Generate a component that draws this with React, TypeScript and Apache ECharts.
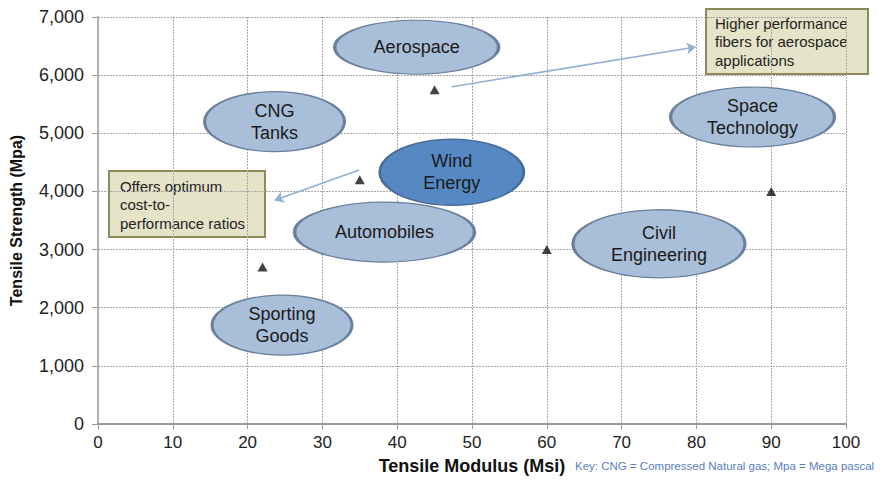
import React, { useEffect, useRef } from "react";
import * as echarts from "echarts";

// Fibre data points (Tensile Modulus Msi, Tensile Strength Mpa)
const pointX = [45, 35, 22, 60, 90];
const pointY = [5750, 4200, 2700, 3000, 4000];

// Application regions (ellipse labels and centres)
const regionNames = ["Aerospace", "CNG\nTanks", "Wind\nEnergy", "Automobiles", "Sporting\nGoods", "Space\nTechnology", "Civil\nEngineering"];
const regionX = [42.6, 23.6, 47.3, 38.3, 24.6, 87.5, 75.0];
const regionY = [6480, 5200, 4330, 3300, 1700, 5280, 3100];

// Axis ticks
const xTicks = [0, 10, 20, 30, 40, 50, 60, 70, 80, 90, 100];
const yTicks = [0, 1000, 2000, 3000, 4000, 5000, 6000, 7000];

// Callouts
const calloutTexts = ["Higher performance\nfibers for aerospace\napplications", "Offers optimum\ncost-to-\nperformance ratios"];
const arrowFrom = [[47.3, 5800], [34.9, 4370]];
const arrowTo = [[79.9, 6484], [23.6, 3850]];

const FONT = "'Liberation Sans', Arial, sans-serif";

export default function App() {
  const ref = useRef<HTMLDivElement>(null);
  useEffect(() => {
    if (!ref.current) return;
    document.body.style.margin = "0";
    const chart = echarts.init(ref.current, undefined, { renderer: "svg" });
    const sizes = [[164, 54], [140, 60], [144, 66], [180, 60], [140, 60], [164, 60], [172, 68]];
    const regionData = regionNames.map((n, i) => ({
      name: n,
      value: [regionX[i], regionY[i]],
      symbolSize: sizes[i],
      itemStyle: i === 2 ? { color: "#5688c4", borderColor: "#4a6d97" } : undefined,
    }));
    chart.setOption({
      animation: false,
      backgroundColor: "#ffffff",
      grid: { left: 95, right: 38, top: 17, bottom: 57 },
      xAxis: {
        type: "value",
        min: xTicks[0],
        max: xTicks[xTicks.length - 1],
        interval: 10,
        name: "Tensile Modulus (Msi)",
        nameLocation: "middle",
        nameGap: 33,
        nameTextStyle: { fontFamily: FONT, fontSize: 18, fontWeight: "bold", color: "#111" },
        axisLine: { show: true, lineStyle: { color: "#9a9a9a", width: 2 } },
        axisTick: { show: true, length: 5, lineStyle: { color: "#9a9a9a" } },
        axisLabel: { fontFamily: FONT, fontSize: 17, color: "#222", margin: 10 },
        splitLine: { show: true, lineStyle: { color: "#a8a8a8", type: [2, 1], width: 1 } },
      },
      yAxis: {
        type: "value",
        min: yTicks[0],
        max: yTicks[yTicks.length - 1],
        interval: 1000,
        name: "Tensile Strength (Mpa)",
        nameLocation: "middle",
        nameGap: 74,
        nameTextStyle: { fontFamily: FONT, fontSize: 16, fontWeight: "bold", color: "#111" },
        axisLine: { show: true, lineStyle: { color: "#b0b0b0", width: 2 } },
        axisTick: { show: true, length: 6, lineStyle: { color: "#9a9a9a" } },
        axisLabel: {
          fontFamily: FONT,
          fontSize: 18,
          color: "#222",
          margin: 14,
          formatter: (v: number) => v.toLocaleString("en-US"),
        },
        splitLine: { show: true, lineStyle: { color: "#a8a8a8", type: [2, 1], width: 1 } },
      },
      series: [
        {
          type: "scatter",
          name: "regions",
          symbol: "circle",
          z: 3,
          data: regionData,
          itemStyle: { color: "#a9bed8", borderColor: "#6a7f9c", borderWidth: 2, opacity: 1 },
          label: {
            show: true,
            position: "inside",
            formatter: (p: any) => p.name,
            fontFamily: FONT,
            fontSize: 18,
            lineHeight: 22,
            color: "#1a1a1a",
          },
          emphasis: { disabled: true },
        },
        {
          type: "scatter",
          name: "fibers",
          symbol: "triangle",
          symbolSize: [10, 9],
          z: 5,
          data: pointX.map((x, i) => [x, pointY[i]]),
          itemStyle: { color: "#111111" },
          markLine: {
            silent: true,
            symbol: ["none", "arrow"],
            symbolSize: 9,
            lineStyle: { color: "#8fb0d2", width: 1.6, type: "solid" },
            label: { show: false },
            data: arrowFrom.map((f, i) => [{ coord: f }, { coord: arrowTo[i] }]),
          },
        },
      ],
      graphic: [
        {
          type: "group",
          left: 705,
          top: 8,
          z: 10,
          children: [
            { type: "rect", shape: { x: 0, y: 0, width: 162, height: 65 }, style: { fill: "#e6e4c8", stroke: "#8b8b5c", lineWidth: 2 } },
            { type: "text", x: 9, y: 5, style: { text: calloutTexts[0], fontFamily: FONT, fontSize: 15, lineHeight: 18.5, fill: "#222" } },
          ],
        },
        {
          type: "group",
          left: 108,
          top: 170,
          z: 10,
          children: [
            { type: "rect", shape: { x: 0, y: 0, width: 156, height: 66 }, style: { fill: "#e6e4c8", stroke: "#8b8b5c", lineWidth: 2 } },
            { type: "text", x: 11, y: 6, style: { text: calloutTexts[1], fontFamily: FONT, fontSize: 15, lineHeight: 18.5, fill: "#222" } },
          ],
        },
        {
          type: "text",
          left: 575,
          top: 460,
          style: { text: "Key: CNG = Compressed Natural gas; Mpa = Mega pascal", fontFamily: FONT, fontSize: 11.5, fill: "#5b7ebd" },
        },
      ],
    });
    return () => chart.dispose();
  }, []);
  return <div ref={ref} style={{ width: 884, height: 481 }} />;
}
